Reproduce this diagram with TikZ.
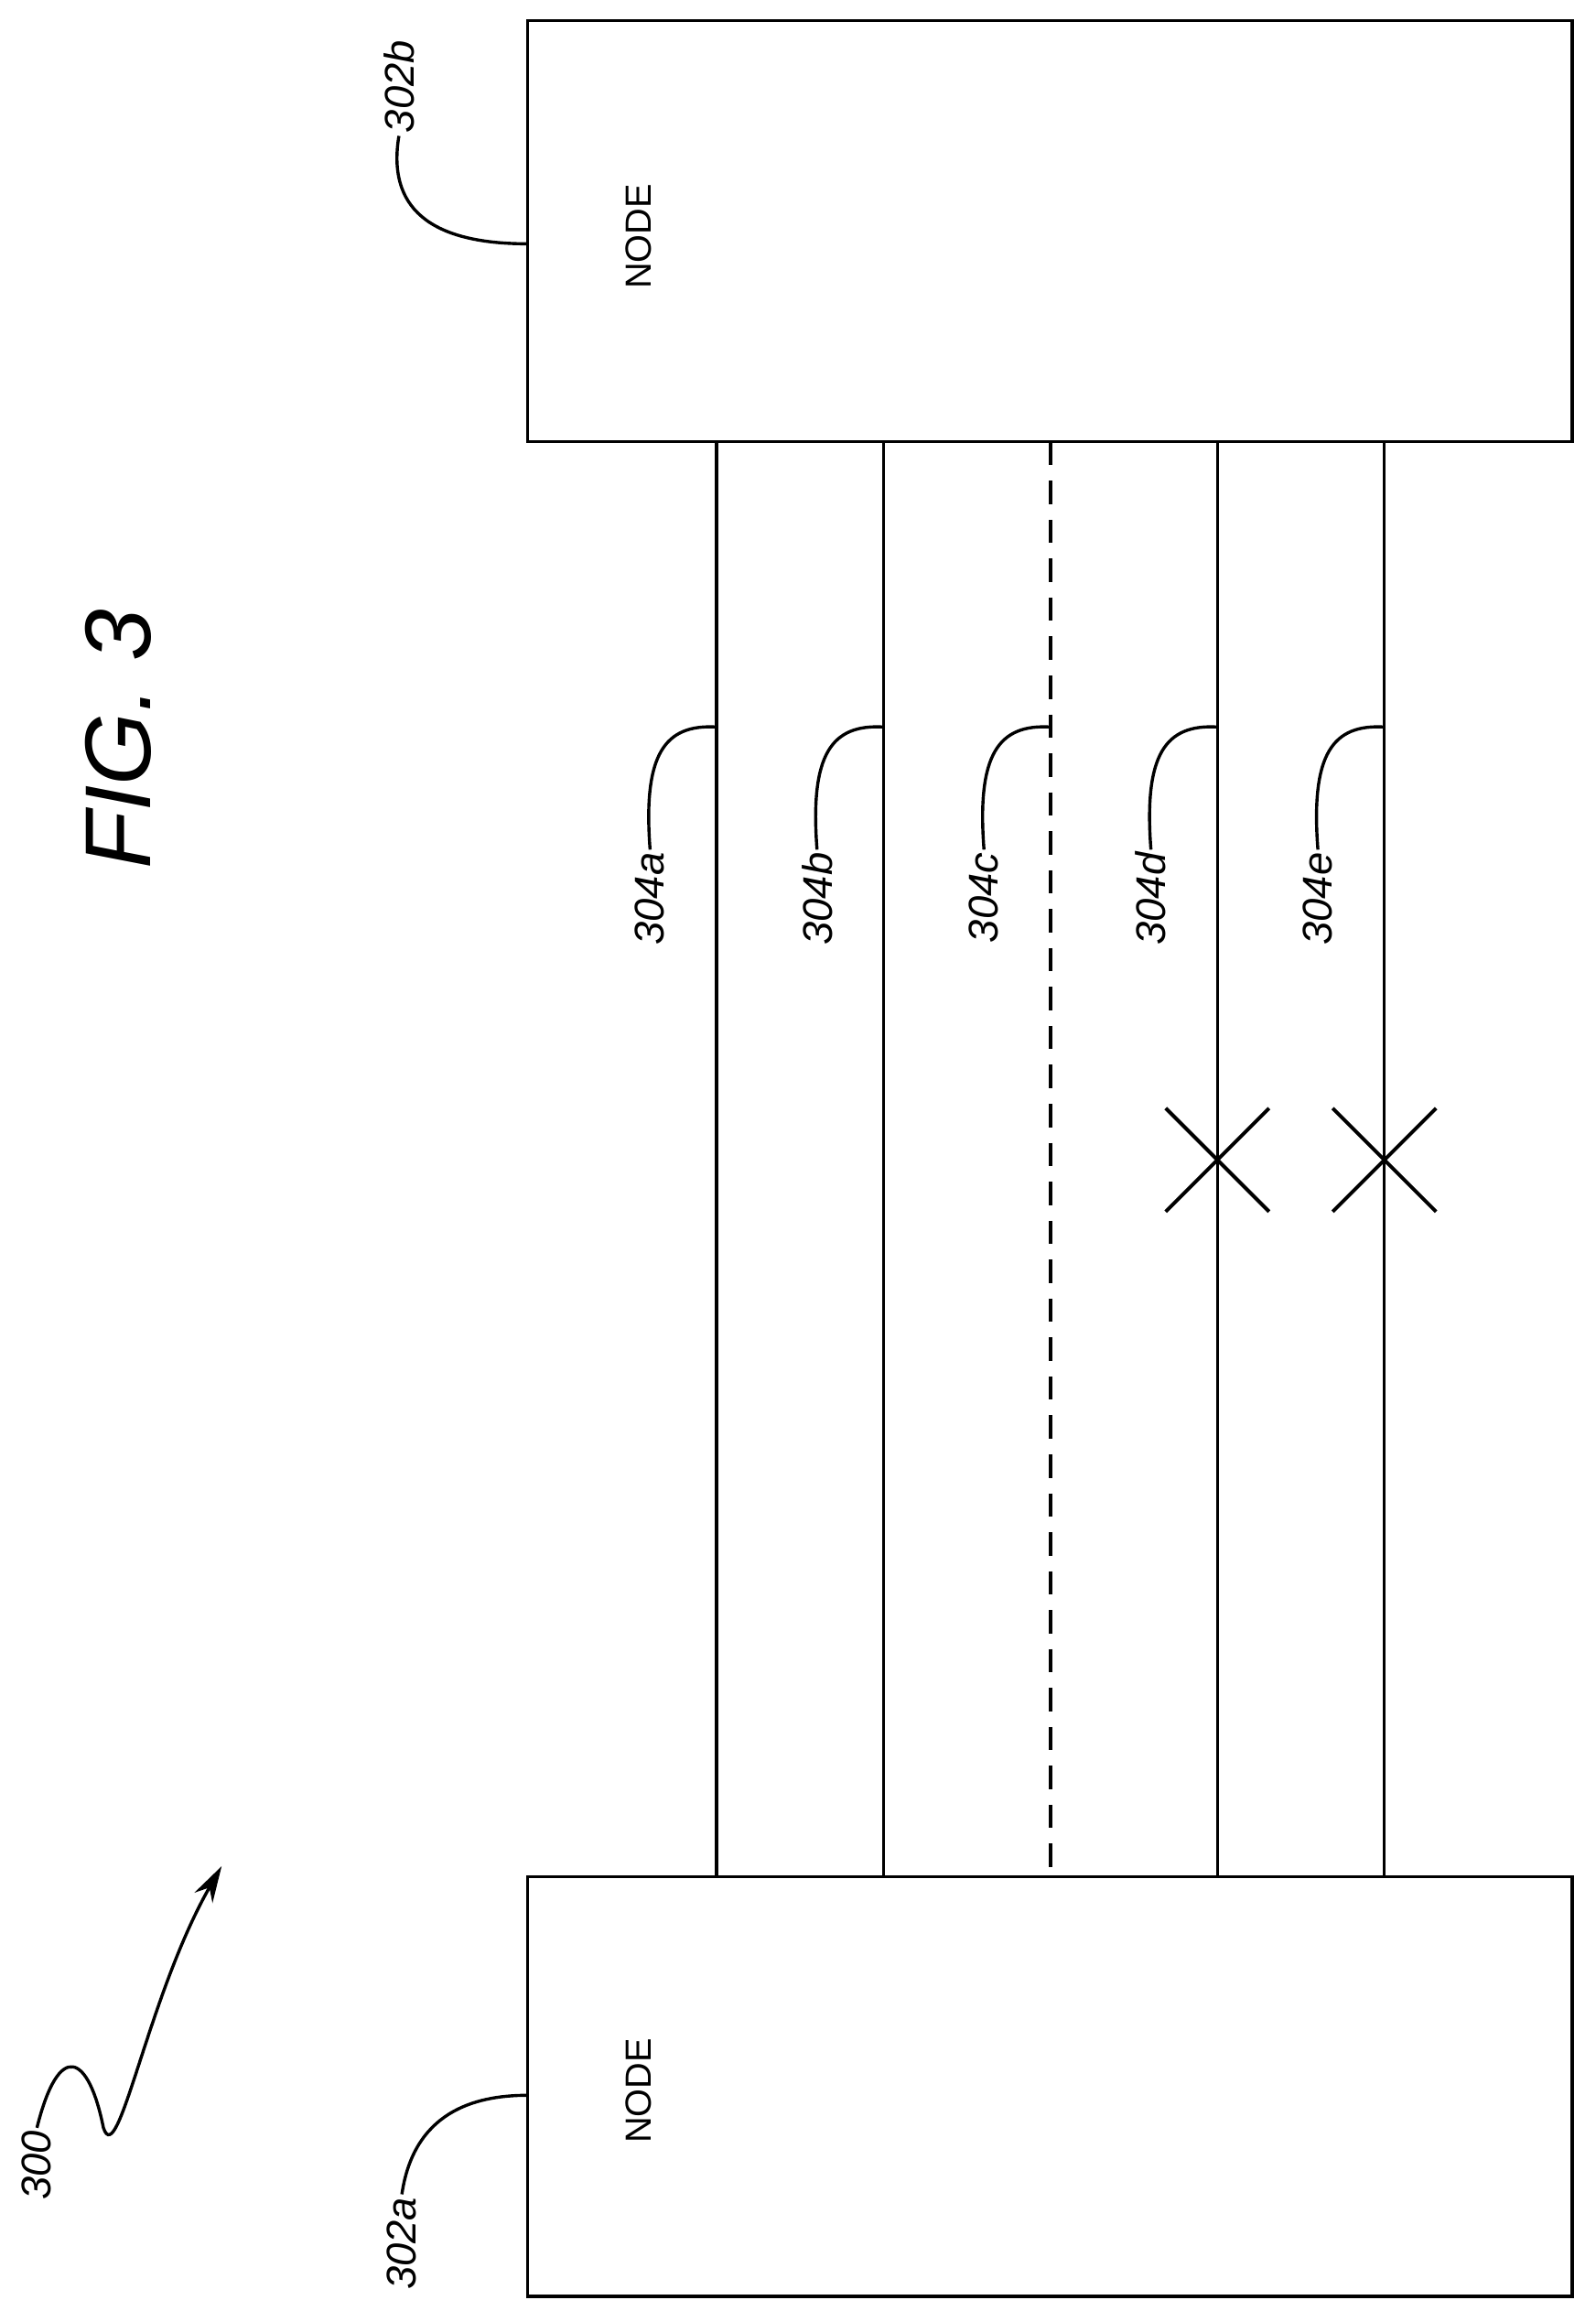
\documentclass[tikz,border=0pt]{standalone}
\usepackage{fontspec}
\setmainfont{Liberation Sans}
\usetikzlibrary{arrows.meta}
\tikzset{
  box/.style={draw, line width=1.2pt},
  link/.style={line width=1.2pt},
  idle/.style={dash pattern=on 9pt off 6pt},
  lead/.style={line width=1.2pt},
  ref/.style={rotate=90, font=\fontsize{16}{18}\selectfont\itshape, inner sep=1pt},
  cross/.style={line width=1.4pt}
}
\begin{document}
\begin{tikzpicture}[x=0.02cm, y=-0.02cm]
  \useasboundingbox (0,0) rectangle (1080,1564);

  % the two nodes
  \draw[box] (357,14) rectangle (1064,299);
  \draw[box] (357,1270) rectangle (1064,1554);
  \node[rotate=90, font=\fontsize{14}{16}\selectfont] (nodeb) at (432,160) {NODE};
  \node[rotate=90, font=\fontsize{14}{16}\selectfont] (nodea) at (432,1415) {NODE};

  % links between them
  \foreach \x/\s/\n in {485/solid/a, 598/solid/b, 711/idle/c, 824/solid/d, 937/solid/e} {
    \coordinate (top\n) at (\x,299);
    \coordinate (bot\n) at (\x,1270);
    \draw[link, \s] (top\n) -- (bot\n);
    \coordinate (hit\n) at (\x,492);
    \node[ref, anchor=east] (lab\n) at (\x-45,575) {304\n};
    \draw[lead] (lab\n.east) .. controls (\x-50,510) and (\x-35,490) .. (hit\n);
  }

  % broken links
  \foreach \x in {824, 937} {
    \draw[cross] (\x-35,750) -- (\x+35,820);
    \draw[cross] (\x-35,820) -- (\x+35,750);
  }

  % reference numbers of the nodes
  \coordinate (edgeb) at (357,165);
  \coordinate (edgea) at (357,1418);
  \node[ref, anchor=west] (lab302b) at (270,92) {302b};
  \draw[lead] (lab302b.west) .. controls (262,140) and (290,165) .. (edgeb);
  \node[ref, anchor=east] (lab302a) at (272,1485) {302a};
  \draw[lead] (lab302a.east) .. controls (280,1430) and (320,1418) .. (edgea);

  % figure number
  \coordinate (tip) at (150,1263);
  \node[ref, anchor=east] (lab300) at (25,1440) {300};
  \draw[lead, -{Stealth[length=14pt,width=8pt]}] (lab300.east) .. controls (40,1380) and (60,1390) .. (70,1440)
    .. controls (80,1470) and (100,1350) .. (tip);
  \node[rotate=90, font=\fontsize{36}{40}\selectfont\itshape] (fig) at (80,500) {FIG. 3};
\end{tikzpicture}
\end{document}
